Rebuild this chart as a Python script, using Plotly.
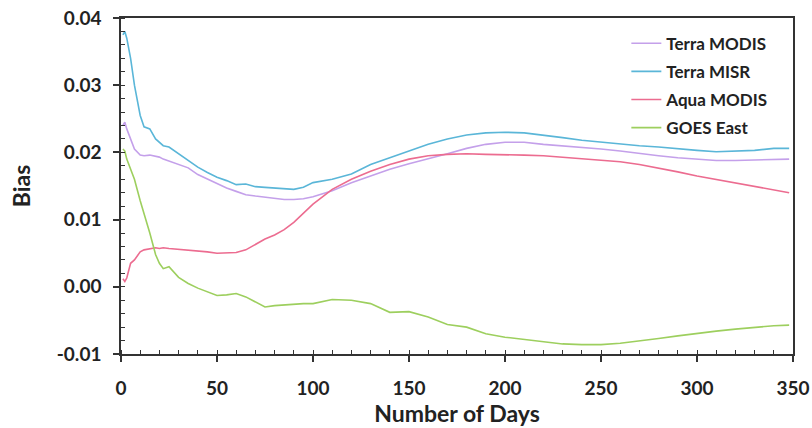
import plotly.graph_objects as go

days = [1, 2, 3, 5, 7, 10, 12, 15, 18, 20, 22, 25, 30, 35, 40, 45, 50, 55, 60, 65,
        70, 75, 80, 85, 90, 95, 100, 110, 120, 130, 140, 150, 160, 170, 180, 190,
        200, 210, 220, 230, 240, 250, 260, 270, 280, 290, 300, 310, 320, 330, 340, 348]

terra_modis = [0.024, 0.0245, 0.0235, 0.022, 0.0205, 0.0196, 0.0195, 0.0196, 0.0194, 0.0193,
               0.019, 0.0187, 0.0182, 0.0177, 0.0167, 0.016, 0.0153, 0.0147, 0.0142, 0.0137,
               0.0135, 0.0133, 0.0131, 0.013, 0.013, 0.0131, 0.0134, 0.0143, 0.0155, 0.0165,
               0.0175, 0.0183, 0.019, 0.0198, 0.0206, 0.0212, 0.0215, 0.0215, 0.0212, 0.021,
               0.0207, 0.0205, 0.0202, 0.0198, 0.0195, 0.0192, 0.019, 0.0188, 0.0188, 0.0189,
               0.019, 0.019]

terra_misr = [0.0375, 0.038, 0.037, 0.034, 0.030, 0.0255, 0.0238, 0.0235, 0.022, 0.0215,
              0.021, 0.0208, 0.0198, 0.0188, 0.0178, 0.017, 0.0163, 0.0158, 0.0152, 0.0153,
              0.0149, 0.0148, 0.0147, 0.0147, 0.0145, 0.0148, 0.0155, 0.016, 0.0168, 0.0182,
              0.0192, 0.0202, 0.0212, 0.022, 0.0226, 0.0229, 0.023, 0.0229, 0.0226, 0.0222,
              0.0218, 0.0215, 0.0212, 0.021, 0.0208, 0.0205, 0.0203, 0.0201, 0.0202, 0.0203,
              0.0206, 0.0206]

aqua_modis = [0.0012, 0.0008, 0.0013, 0.0035, 0.004, 0.0052, 0.0055, 0.0057, 0.0058, 0.0057,
              0.0058, 0.0057, 0.0056, 0.0055, 0.0054, 0.0052, 0.005, 0.0051, 0.0051, 0.0055,
              0.0063, 0.0071, 0.0077, 0.0085, 0.0096, 0.011, 0.0123, 0.0145, 0.016, 0.0172,
              0.0182, 0.019, 0.0195, 0.0197, 0.0198, 0.0197, 0.0197, 0.0196, 0.0195, 0.0193,
              0.0191, 0.0189, 0.0186, 0.0182, 0.0177, 0.0171, 0.0165, 0.016, 0.0155, 0.015,
              0.0144, 0.014]

goes_east = [0.0205, 0.0202, 0.019, 0.0175, 0.016, 0.0128, 0.011, 0.008, 0.0048, 0.0035,
             0.0027, 0.003, 0.0014, 0.0005, -0.0002, -0.0008, -0.0013, -0.0012, -0.001, -0.0015,
             -0.0022, -0.003, -0.0028, -0.0027, -0.0025, -0.0025, -0.0025, -0.0019, -0.002, -0.0025,
             -0.0038, -0.0037, -0.0045, -0.0056, -0.006, -0.007, -0.0075, -0.0078, -0.0082, -0.0085,
             -0.0086, -0.0086, -0.0084, -0.0081, -0.0077, -0.0073, -0.0069, -0.0066, -0.0063, -0.006,
             -0.0058, -0.0057]

x_ticks = [0, 50, 100, 150, 200, 250, 300, 350]
y_ticks = [-0.01, 0.0, 0.01, 0.02, 0.03, 0.04]
y_tick_labels = ["-0.01", "0.00", "0.01", "0.02", "0.03", "0.04"]

series = [
    ("Terra MODIS", terra_modis, "#c4a0ea"),
    ("Terra MISR", terra_misr, "#5ab6d8"),
    ("Aqua MODIS", aqua_modis, "#ec6c90"),
    ("GOES East", goes_east, "#9dcf5e"),
]

fig = go.Figure()
for i, (name, vals, color) in enumerate(series):
    fig.add_trace(go.Scatter(x=days, y=vals, mode="lines", name=name, legendgroup=f"g{i}",
                             line=dict(color=color, width=1.6)))

font_family = "Lato, Open Sans, sans-serif"
txt = "#222"
fig.update_layout(
    width=812, height=428,
    margin=dict(l=121, r=19, t=18, b=74, autoexpand=False),
    paper_bgcolor="white", plot_bgcolor="white",
    font=dict(family=font_family, color=txt),
    showlegend=True,
    legend=dict(x=0.752, y=0.977, xanchor="left", yanchor="top",
                bgcolor="rgba(0,0,0,0)", font=dict(size=17, family=font_family, color=txt, weight="bold"),
                itemwidth=30, traceorder="grouped", tracegroupgap=3),
)
fig.update_xaxes(
    range=[0, 350], tickvals=x_ticks, automargin=False,
    showgrid=False, zeroline=False,
    showline=True, linecolor="#333", linewidth=1.5, mirror=True,
    ticks="outside", ticklen=6, tickwidth=1.5, tickcolor="#333",
    ticklabelstandoff=10,
    minor=dict(dtick=10, ticks="inside", ticklen=4, tickcolor="#333", tickwidth=1, showgrid=False),
    tickfont=dict(size=19, family=font_family, color=txt, weight="bold"),
    title=dict(text="Number of Days", font=dict(size=23, family=font_family, color=txt, weight="bold"), standoff=4),
)
fig.update_yaxes(
    range=[-0.01, 0.04], tickvals=y_ticks, ticktext=y_tick_labels, automargin=False,
    showgrid=False, zeroline=False,
    showline=True, linecolor="#333", linewidth=1.5, mirror=True,
    ticks="outside", ticklen=6, tickwidth=1.5, tickcolor="#333",
    ticklabelstandoff=8,
    minor=dict(dtick=0.002, ticks="inside", ticklen=4, tickcolor="#333", tickwidth=1, showgrid=False),
    tickfont=dict(size=19, family=font_family, color=txt, weight="bold"),
    title=dict(text="Bias", font=dict(size=23, family=font_family, color=txt, weight="bold"), standoff=20),
)

fig.write_html("out.html")
